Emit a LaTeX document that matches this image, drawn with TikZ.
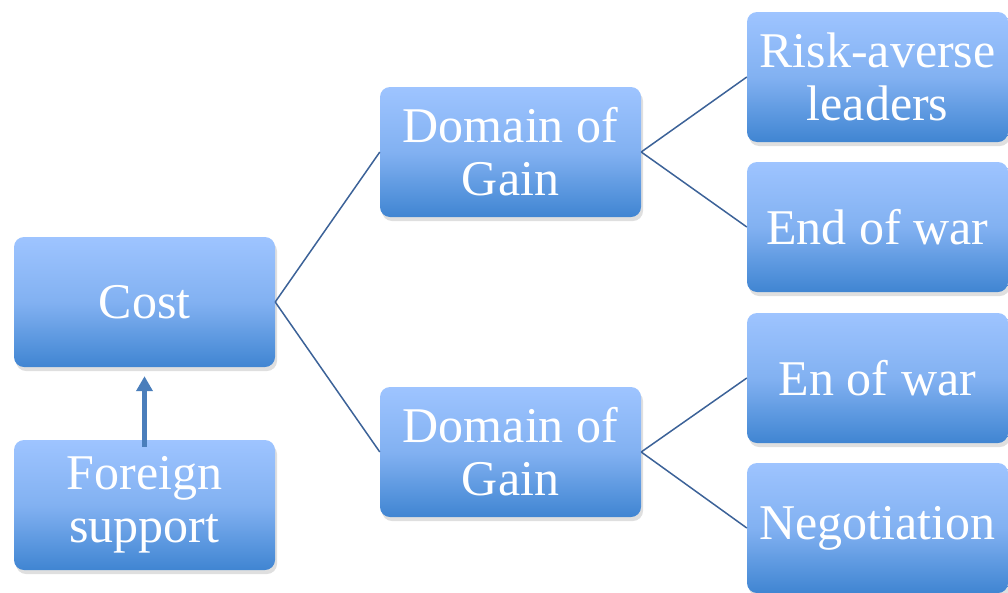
\documentclass[tikz,border=0pt]{standalone}
\usepackage{fontspec}
\setmainfont{Liberation Serif}
\usetikzlibrary{shadows,arrows.meta}
\definecolor{boxtop}{RGB}{158,196,255}
\definecolor{boxbot}{RGB}{64,133,210}
\definecolor{linecol}{RGB}{60,98,152}
\definecolor{arrowcol}{RGB}{74,126,187}
\tikzset{
  box/.style={rectangle, rounded corners=10pt, minimum width=261pt, minimum height=130pt,
    inner sep=0pt, top color=boxtop, bottom color=boxbot, middle color=boxtop!70!boxbot,
    draw=none, text=white, align=center,
    font=\fontsize{50}{53}\selectfont,
    drop shadow={opacity=0.25, shadow xshift=2pt, shadow yshift=-4pt}},
  conn/.style={draw=linecol, line width=1.5pt},
  uparrow/.style={draw=arrowcol, line width=5pt, -{Triangle[width=16pt,length=15pt]}}
}
\begin{document}
\begin{tikzpicture}[x=1pt,y=-1pt]
\useasboundingbox (0,0) rectangle (1008,592);
\node[box] (cost) at (144.5,302) {Cost};
\node[box] (fs) at (144.5,505) {Foreign\\support};
\node[box] (dg1) at (510.5,152) {Domain of\\Gain};
\node[box] (dg2) at (510.5,452) {Domain of\\Gain};
\node[box] (r1) at (877.5,77) {Risk-averse\\leaders};
\node[box] (r2) at (877.5,227) {End of war};
\node[box] (r3) at (877.5,378) {En of war};
\node[box] (r4) at (877.5,528) {Negotiation};
\draw[conn] (cost.east) -- (dg1.west);
\draw[conn] (cost.east) -- (dg2.west);
\draw[conn] (dg1.east) -- (r1.west);
\draw[conn] (dg1.east) -- (r2.west);
\draw[conn] (dg2.east) -- (r3.west);
\draw[conn] (dg2.east) -- (r4.west);
\draw[uparrow] ([yshift=-7pt]fs.north) -- ([yshift=-9pt]cost.south);
\end{tikzpicture}
\end{document}
